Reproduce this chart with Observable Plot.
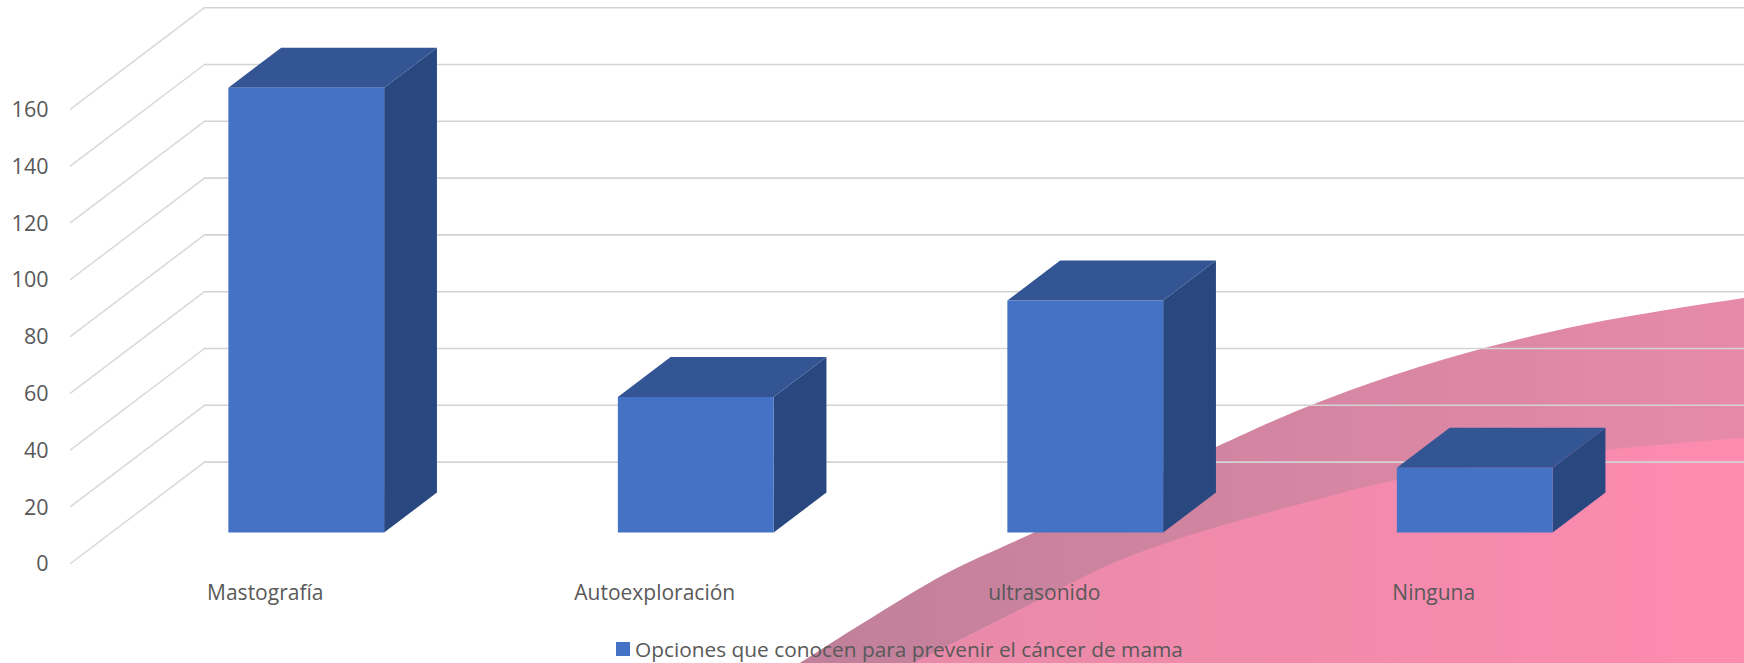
<!DOCTYPE html>
<html><head><meta charset="utf-8">
<script src="https://cdn.jsdelivr.net/npm/d3@7"></script>
<script src="https://cdn.jsdelivr.net/npm/@observablehq/plot@0.6"></script>
<style>
html,body{margin:0;padding:0;background:#fff;width:1744px;height:663px;overflow:hidden}
#wrap{position:relative;width:1744px;height:663px}
#legend{position:absolute;left:616px;top:635px;display:flex;align-items:center;font:20.85px "Open Sans",sans-serif;color:#595959;white-space:nowrap}
#legend i{display:inline-block;width:14px;height:14px;background:#4472c4;margin-right:5px}
svg{display:block}
</style></head><body><div id="wrap"><div id="legend"><i></i><span id="lt"></span></div></div>
<script>
const categories = ["Mastografía","Autoexploración","ultrasonido","Ninguna"];
const values = [156.6,47.7,81.7,22.8];
const seriesName = "Opciones que conocen para prevenir el cáncer de mama";
const yTicks = [0,20,40,60,80,100,120,140,160];
// pink background edges (category units, value units)
const px = p => (p-70)/389.5-0.5, py = p => (563-p)/2.84;
const edgeOuter = [[800,663],[863,623],[947,573],[1033,533],[1216,447],[1304,408],[1394,375],[1488,347],[1582,325],[1666,310],[1744,298]].map(([a,b])=>({u:px(a),v:py(b)}));
const edgeInner = [[913,663],[1013,613],[1113,563],[1200,532],[1304,503],[1397,480],[1606,450],[1744,438]].map(([a,b])=>({u:px(a),v:py(b)}));
const bottomV = py(663);

const depthU = 134/389.5, depthV = 101.4/2.84;
const barHalf = 0.2, dFront = 0.306, dBack = 0.70;
const P = (u,v,d) => ({u:u+d*depthU, v:v+d*depthV});

const bars = categories.map((c,i)=>({c,i,val:values[i]}));
const front = bars.flatMap(b=>[[-1,0],[1,0],[1,b.val],[-1,b.val]].map(([s,v])=>({...P(b.i+s*barHalf,v,dFront),k:b.c})));
const top_ = bars.flatMap(b=>[[-1,dFront],[1,dFront],[1,dBack],[-1,dBack]].map(([s,d])=>({...P(b.i+s*barHalf,b.val,d),k:b.c})));
const side = bars.flatMap(b=>[[0,dFront],[b.val,dFront],[b.val,dBack],[0,dBack]].map(([v,d])=>({...P(b.i+barHalf,v,d),k:b.c})));
const sideLines = yTicks.flatMap(t=>[{...P(-0.5,t,0),k:t},{...P(-0.5,t,1),k:t}]);
const backLines = yTicks.flatMap(t=>[{...P(-0.5,t,1),k:t},{...P(4,t,1),k:t}]);

const defs = () => {
  const d = d3.create("svg:defs");
  const g = (id,a,b) => { const l=d.append("linearGradient").attr("id",id);
    l.append("stop").attr("offset","0").attr("stop-color",a);
    l.append("stop").attr("offset","1").attr("stop-color",b); };
  g("pinkBase","#e88aa9","#fd8bb0");
  g("pinkBand","#c0809a","#e78aa9");
  return d.node();
};

const plot = Plot.plot({
  width:1744,height:663,margin:0,marginLeft:70,marginRight:116,marginTop:0,marginBottom:100,
  x:{domain:[-0.5,3.5],range:[70,1628]},
  y:{domain:[0,160],range:[563,108.6]},
  style:{background:"#ffffff",fontFamily:"'Open Sans',sans-serif",fontSize:"21px",color:"#595959",overflow:"hidden"},
  marks:[
    defs,
    Plot.areaY(edgeOuter,{x:"u",y1:"v",y2:()=>bottomV,fill:"url(#pinkBand)",stroke:"none",curve:"catmull-rom"}),
    Plot.areaY(edgeInner,{x:"u",y1:"v",y2:()=>bottomV,fill:"url(#pinkBase)",stroke:"none",curve:"catmull-rom"}),
    Plot.line(sideLines,{x:"u",y:"v",z:"k",stroke:"#d9d9d9",strokeWidth:1.5}),
    Plot.line(backLines,{x:"u",y:"v",z:"k",stroke:"#d4d4d4",strokeWidth:1.6}),
    Plot.line(side,{x:"u",y:"v",z:"k",fill:"#294880",stroke:"none"}),
    Plot.line(top_,{x:"u",y:"v",z:"k",fill:"#335594",stroke:"none"}),
    Plot.line(front,{x:"u",y:"v",z:"k",fill:"#4472c4",stroke:"none"}),
    Plot.axisY({ticks:yTicks,tickSize:0,tickPadding:22,label:null,fontSize:21.5,fill:"#595959",dy:1}),
    Plot.axisX({ticks:[0,1,2,3],tickFormat:i=>categories[i],tickSize:0,tickPadding:22,label:null,fontSize:21,fill:"#595959",anchor:"bottom"})
  ]
});
document.getElementById("wrap").prepend(plot);
document.getElementById("lt").textContent = seriesName;
</script></body></html>
